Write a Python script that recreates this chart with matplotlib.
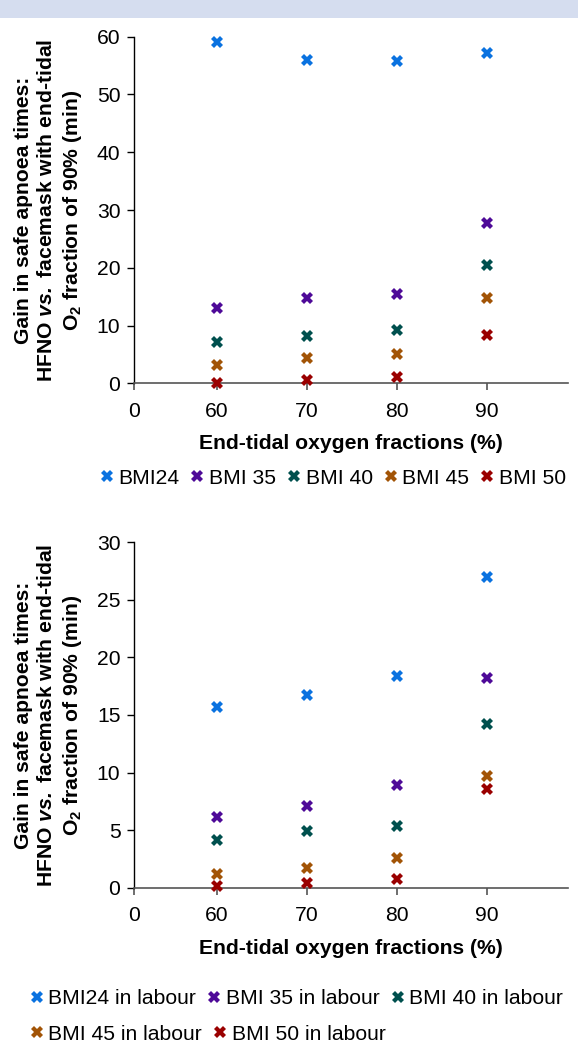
import matplotlib
matplotlib.use("Agg")
import matplotlib.pyplot as plt
from matplotlib.patches import Rectangle

plt.rcParams['font.family'] = ['Liberation Sans', 'DejaVu Sans']
plt.rcParams['mathtext.fontset'] = 'custom'
plt.rcParams['mathtext.rm'] = 'Liberation Sans'
plt.rcParams['mathtext.bf'] = 'Liberation Sans:bold'
plt.rcParams['mathtext.it'] = 'Liberation Sans:italic'
plt.rcParams['mathtext.bfit'] = 'Liberation Sans:bold:italic'

# data
oxygen = [60, 70, 80, 90]
x_tick_labels = ['0', '60', '70', '80', '90']

top_names = ['BMI24', 'BMI 35', 'BMI 40', 'BMI 45', 'BMI 50']
top_bmi24 = [59.0, 56.0, 55.8, 57.2]
top_bmi35 = [13.1, 14.8, 15.5, 27.7]
top_bmi40 = [7.2, 8.2, 9.2, 20.4]
top_bmi45 = [3.2, 4.4, 5.1, 14.7]
top_bmi50 = [0.1, 0.5, 1.1, 8.3]

bot_names = ['BMI24 in labour', 'BMI 35 in labour', 'BMI 40 in labour',
             'BMI 45 in labour', 'BMI 50 in labour']
bot_bmi24 = [15.7, 16.7, 18.4, 27.0]
bot_bmi35 = [6.1, 7.1, 8.9, 18.2]
bot_bmi40 = [4.1, 4.9, 5.4, 14.2]
bot_bmi45 = [1.2, 1.7, 2.6, 9.7]
bot_bmi50 = [0.15, 0.4, 0.75, 8.6]

colors = ['#0a72e0', '#4e0a98', '#00504e', '#a25406', '#9a0000']
FS = 15.2

W, H = 578, 1058
fig = plt.figure(figsize=(W / 100, H / 100), dpi=100)
fig.patches.append(Rectangle((0, 1 - 18 / H), 1, 18 / H, transform=fig.transFigure,
                             facecolor='#d5ddef', edgecolor='none'))

left_px, right_px = 134.3, 567.7
x_lo, x_hi = 50.85, 99.0

ylab = ("Gain in safe apnoea times:\n"
        r"HFNO $\mathbfit{vs.}$ facemask with end-tidal" "\n"
        r"$\mathbf{O_2}$ fraction of 90% (min)")


def make_panel(top_px, bot_px, series, names, ymax, ystep):
    ax = fig.add_axes([left_px / W, 1 - bot_px / H, (right_px - left_px) / W,
                       (bot_px - top_px) / H])
    for vals, c, n in zip(series, colors, names):
        ax.plot(oxygen, vals, linestyle='none', marker='X', markersize=9,
                markeredgewidth=0, color=c, label=n, clip_on=False, zorder=3)
    ax.set_xlim(x_lo, x_hi)
    ax.set_ylim(0, ymax)
    ax.set_xticks([x_lo] + oxygen)
    ax.set_xticklabels(x_tick_labels)
    ax.set_yticks(range(0, ymax + 1, ystep))
    for s in ['top', 'right']:
        ax.spines[s].set_visible(False)
    ax.spines['bottom'].set_color('#555555')
    ax.spines['bottom'].set_linewidth(1.2)
    ax.spines['left'].set_color('black')
    ax.spines['left'].set_linewidth(1.0)
    ax.tick_params(axis='x', colors='#555555', labelcolor='black', length=5,
                   width=1.2, pad=8.5, labelsize=FS)
    ax.tick_params(axis='y', length=5, width=1.0, pad=5, labelsize=FS)
    ax.set_xlabel('End-tidal oxygen fractions (%)', fontsize=FS, fontweight='bold',
                  labelpad=9.5)
    fig.text(49 / W, 1 - (top_px + bot_px) / 2 / H, ylab, rotation=90, ha='center',
             va='center', multialignment='center', fontsize=FS, fontweight='bold',
             linespacing=1.3)
    return ax


ax1 = make_panel(36.7, 383.3, [top_bmi24, top_bmi35, top_bmi40, top_bmi45, top_bmi50],
                 top_names, 60, 10)
ax2 = make_panel(542.3, 887.7, [bot_bmi24, bot_bmi35, bot_bmi40, bot_bmi45, bot_bmi50],
                 bot_names, 30, 5)

leg_kw = dict(frameon=False, fontsize=FS, handlelength=0.5, handletextpad=0.3,
              columnspacing=0.6, borderpad=0, borderaxespad=0, markerscale=0.9)

h1, l1 = ax1.get_legend_handles_labels()
fig.legend(h1, l1, loc='center left', bbox_to_anchor=(101.5 / W, 1 - 478 / H),
           ncol=5, **leg_kw)

h2, l2 = ax2.get_legend_handles_labels()
fig.legend(h2[:3], l2[:3], loc='center left', bbox_to_anchor=(31.5 / W, 1 - 999 / H),
           ncol=3, **leg_kw)
fig.legend(h2[3:], l2[3:], loc='center left', bbox_to_anchor=(31.5 / W, 1 - 1034 / H),
           ncol=2, **leg_kw)

fig.savefig('out.png', dpi=100)
